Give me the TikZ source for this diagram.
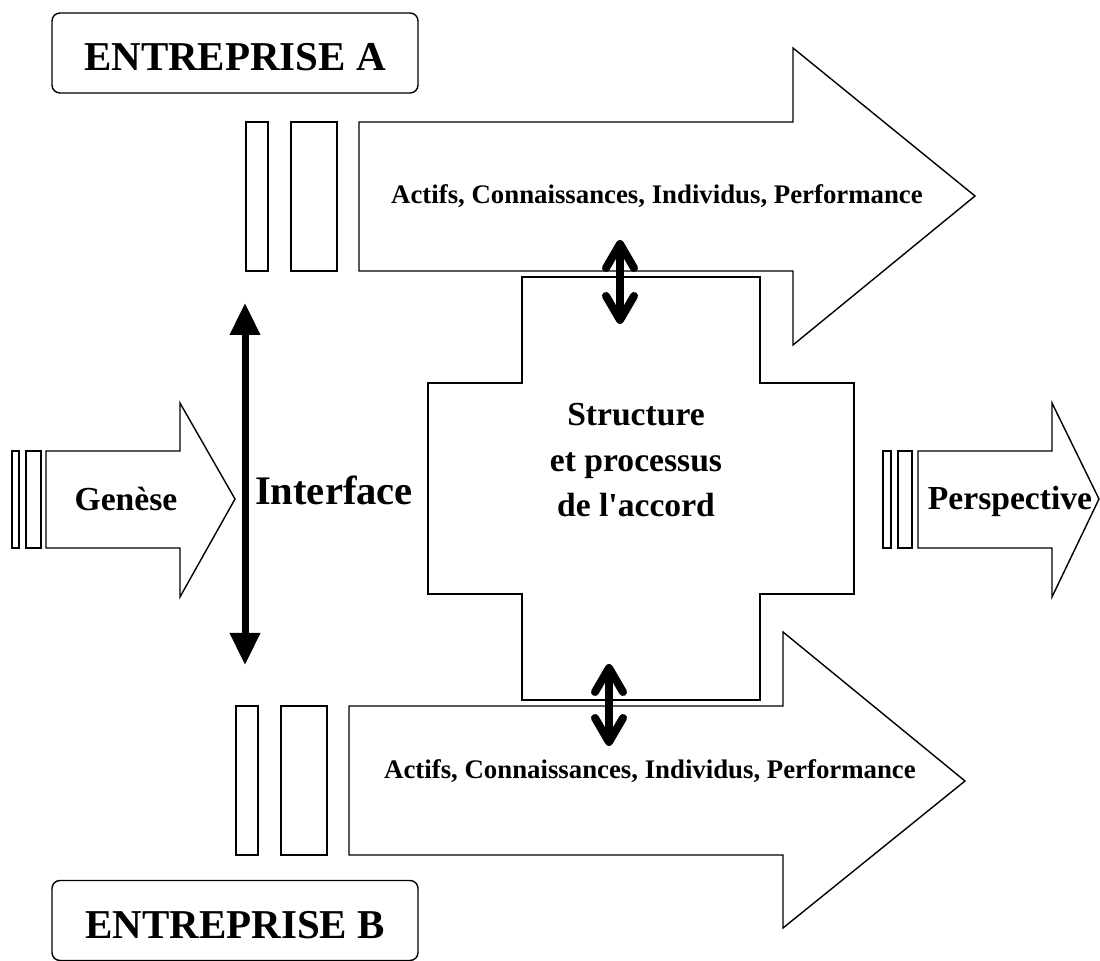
\documentclass[tikz,border=0pt]{standalone}
\usepackage{fontspec}
\setmainfont{Liberation Serif}
\usetikzlibrary{arrows.meta}
\begin{document}
\begin{tikzpicture}[x=0.5pt,y=-0.5pt,
  outline/.style={draw=black,line width=0.7pt,fill=white,line join=miter},
  company/.style={outline,rounded corners=4pt,minimum width=183pt,minimum height=40pt,
    inner sep=0pt,text height=18pt,text depth=0pt,font=\bfseries\fontsize{20.5}{24}\selectfont},
  flowtext/.style={anchor=base,inner sep=0pt,font=\bfseries\fontsize{13.4}{16}\selectfont},
  midtext/.style={anchor=base,inner sep=0pt,font=\bfseries\fontsize{16.8}{20}\selectfont},
  bigtext/.style={anchor=base,inner sep=0pt,font=\bfseries\fontsize{20.3}{24}\selectfont},
  bigarrow/.style={line width=3.5pt,
    {Triangle[length=16pt,width=14.5pt]}-{Triangle[length=16pt,width=14.5pt]}},
  linkarrow/.style={line width=4pt,
    {Straight Barb[length=12pt,width=14pt,round]}-{Straight Barb[length=12pt,width=14pt,round]}}
]
\useasboundingbox (0,0) rectangle (1100,961);

% company labels
\node[company] (entA) at (235,53) {ENTREPRISE A};
\node[company] (entB) at (235,920.5) {ENTREPRISE B};

% upper flow arrow with its trailing bars
\draw[outline] (359,122) -- (793,122) -- (793,48) -- (975,196) -- (793,345)
  -- (793,271) -- (359,271) -- cycle;
\draw[outline] (246,122) rectangle (268,271);
\draw[outline] (291,122) rectangle (337,271);
\node[flowtext] (flowA) at (657,204) {Actifs, Connaissances, Individus, Performance};

% lower flow arrow with its trailing bars
\draw[outline] (349,706) -- (783,706) -- (783,632) -- (965,781) -- (783,928)
  -- (783,855) -- (349,855) -- cycle;
\draw[outline] (236,706) rectangle (258,855);
\draw[outline] (281,706) rectangle (327,855);
\node[flowtext] (flowB) at (650,779) {Actifs, Connaissances, Individus, Performance};

% Genese arrow
\draw[outline] (46,451) -- (180,451) -- (180,403) -- (235,499) -- (180,597)
  -- (180,548) -- (46,548) -- cycle;
\draw[outline] (12,451) rectangle (19,548);
\draw[outline] (26,451) rectangle (41,548);
\node[midtext] (genese) at (126,511) {Genèse};

% Perspective arrow
\draw[outline] (918,451) -- (1052,451) -- (1052,403) -- (1099,499) -- (1052,597)
  -- (1052,548) -- (918,548) -- cycle;
\draw[outline] (883,451) rectangle (891,548);
\draw[outline] (898,451) rectangle (912,548);
\node[midtext] (persp) at (1010,510) {Perspective};

% cross-shaped block of the agreement
\draw[outline] (522,277) -- (760,277) -- (760,383) -- (854,383) -- (854,594)
  -- (760,594) -- (760,700) -- (522,700) -- (522,594) -- (428,594)
  -- (428,383) -- (522,383) -- cycle;
\node[midtext] (acc1) at (636,426) {Structure};
\node[midtext] (acc2) at (636,472) {et processus};
\node[midtext] (acc3) at (636,517) {de l\textquotesingle accord};

% interface
\node[bigtext] (iface) at (334,505) {Interface};
\coordinate (ifTop) at (245,303);
\coordinate (ifBot) at (245,665);
\draw[bigarrow] (ifTop) -- (ifBot);

% exchanges between the block and the two flows
\coordinate (lkAtop) at (620,240);
\coordinate (lkAbot) at (620,324);
\coordinate (lkBtop) at (609,664);
\coordinate (lkBbot) at (609,746);
\draw[linkarrow] (lkAtop) -- (lkAbot);
\draw[linkarrow] (lkBtop) -- (lkBbot);
\end{tikzpicture}
\end{document}
